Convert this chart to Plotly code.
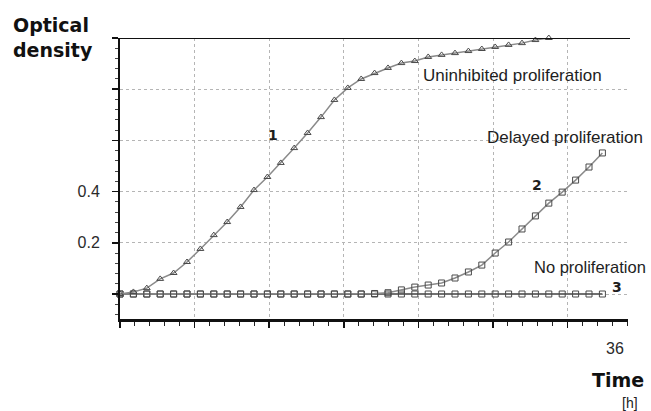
import plotly.graph_objects as go

# ---------------- data ----------------
hours_1 = list(range(0, 33))
uninhibited = [0, 0.008, 0.023, 0.059, 0.082, 0.125, 0.176, 0.23, 0.281, 0.34,
               0.406, 0.457, 0.512, 0.57, 0.629, 0.691, 0.758, 0.805, 0.84, 0.863,
               0.883, 0.902, 0.91, 0.926, 0.934, 0.941, 0.949, 0.957, 0.965, 0.973,
               0.98, 0.992, 1.0]

hours_2 = list(range(0, 37))
delayed = [0, 0, 0, 0, 0, 0, 0, 0, 0, 0,
           0, 0, 0, 0, 0, 0, 0, 0, 0, 0.002,
           0.005, 0.016, 0.027, 0.035, 0.043, 0.0625, 0.086, 0.113, 0.16, 0.203,
           0.254, 0.305, 0.355, 0.398, 0.445, 0.496, 0.551]

hours_3 = list(range(0, 37))
no_prolif = [0] * 37

y_tick_vals = [0, 0.2, 0.4, 0.6, 0.8, 1.0]
y_tick_text = ["", "0.2", "0.4", "", "", ""]
x_label_vals = [36]
x_label_text = ["36"]

# ---------------- layout geometry ----------------
W, H = 651, 411
L, R, T, B = 120, 23, 38, 92
plot_w = W - L - R
plot_h = H - T - B
X_MAX = plot_w / 13.4          # hours across plot width
Y_MIN = -25 / 256.0


def px_x(p):
    # page pixel -> paper x
    return (p - L) / plot_w


def px_y(p):
    # page pixel -> paper y
    return (H - B - p) / plot_h


line_col = "#8a8a8a"
mark_col = "#4a4a4a"
grid_col = "#b5b5b5"
txt_col = "#1e1e1e"

fig = go.Figure()

fig.add_trace(go.Scatter(
    x=hours_3, y=no_prolif, mode="lines+markers",
    line=dict(color="#707070", width=2),
    marker=dict(symbol="square-open", size=6, color=mark_col, line=dict(width=1)),
    cliponaxis=False, showlegend=False, hoverinfo="skip"))

fig.add_trace(go.Scatter(
    x=hours_2, y=delayed, mode="lines+markers",
    line=dict(color=line_col, width=1.5),
    marker=dict(symbol="square-open", size=6, color=mark_col, line=dict(width=1)),
    cliponaxis=False, showlegend=False, hoverinfo="skip"))

fig.add_trace(go.Scatter(
    x=hours_1, y=uninhibited, mode="lines+markers",
    line=dict(color=line_col, width=1.5),
    marker=dict(symbol="triangle-up-open", size=6, color=mark_col, line=dict(width=1)),
    cliponaxis=False, showlegend=False, hoverinfo="skip"))

fig.update_layout(
    width=W, height=H,
    margin=dict(l=L, r=R, t=T, b=B, pad=0),
    paper_bgcolor="white", plot_bgcolor="white",
    font=dict(family="Liberation Sans, Arial, sans-serif", color=txt_col),
    xaxis=dict(
        range=[0, X_MAX], showticklabels=False,
        tick0=0, dtick=74.6 / 13.4,
        ticks="outside", ticklen=6, tickwidth=1.5, tickcolor="#111",
        showline=True, linecolor="#111", linewidth=2.5,
        showgrid=True, gridcolor=grid_col, griddash="dot", gridwidth=1,
        zeroline=False,
        minor=dict(dtick=74.6 / 13.4 / 5, ticks="outside", ticklen=4,
                   tickcolor="#222", tickwidth=1, showgrid=False),
    ),
    yaxis=dict(
        range=[Y_MIN, 1.0], tickvals=y_tick_vals, ticktext=y_tick_text,
        ticks="outside", ticklen=6, tickwidth=1.5, tickcolor="#111",
        ticklabelstandoff=9,
        tickfont=dict(size=16, color="#2a2a2a", family="Liberation Sans, Arial, sans-serif"),
        showline=True, linecolor="#111", linewidth=2,
        showgrid=True, gridcolor=grid_col, griddash="dot", gridwidth=1,
        zeroline=False,
        minor=dict(dtick=0.04, ticks="outside", ticklen=3, tickcolor="#444",
                   tickwidth=1, showgrid=False),
    ),
)

# top frame line at 1.0
fig.add_shape(type="line", xref="paper", yref="y",
              x0=px_x(113), x1=px_x(630), y0=1.0, y1=1.0,
              line=dict(color="#111", width=2))

# titles
fig.add_annotation(text="<b>Optical<br>density</b>", xref="paper", yref="paper",
                   x=px_x(11), y=px_y(12), xanchor="left", yanchor="top",
                   align="left", showarrow=False,
                   font=dict(family="DejaVu Sans", size=19, color="#111"))
fig.add_annotation(text="<b>Time</b>", xref="paper", yref="paper",
                   x=px_x(618), y=px_y(380), xanchor="center", yanchor="middle",
                   showarrow=False,
                   font=dict(family="DejaVu Sans", size=19, color="#111"))
fig.add_annotation(text="[h]", xref="paper", yref="paper",
                   x=px_x(630), y=px_y(403), xanchor="center", yanchor="middle",
                   showarrow=False,
                   font=dict(family="Liberation Sans", size=14, color="#222"))

# x tick label
for v, t in zip(x_label_vals, x_label_text):
    fig.add_annotation(text=t, x=v, xref="x", yref="paper", y=px_y(348),
                       xanchor="center", yanchor="middle", xshift=13, showarrow=False,
                       font=dict(family="Liberation Sans", size=16, color="#2a2a2a"))

# curve labels
labels = [
    ("Uninhibited proliferation", 29.3, 0.852, 17, False),
    ("Delayed proliferation", 33.2, 0.613, 17, False),
    ("No proliferation", 35.1, 0.105, 16.5, False),
    ("1", 11.42, 0.621, 14, True),
    ("2", 31.1, 0.426, 14, True),
    ("3", 37.1, 0.027, 14, True),
]
for text, xv, yv, sz, bold in labels:
    fig.add_annotation(
        text=f"<b>{text}</b>" if bold else text, x=xv, y=yv, xref="x", yref="y",
        xanchor="center", yanchor="middle", showarrow=False,
        font=dict(family="DejaVu Sans" if bold else "Liberation Sans", size=sz, color=txt_col))

fig.write_html("out.html",
               config={"displayModeBar": False, "staticPlot": True},
               post_script="document.body.style.margin='0';document.body.style.overflow='hidden';")
